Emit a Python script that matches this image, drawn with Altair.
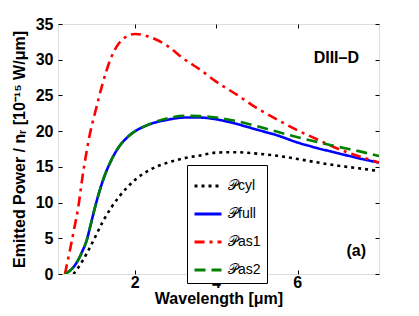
import altair as alt
import pandas as pd

series_names = ["𝒫cyl", "𝒫full", "𝒫as1", "𝒫as2"]
series_colors = ["#000000", "#0000ff", "#ff0000", "#008000"]
series_dash = [[3, 4], [1, 0], [10, 5, 3, 5], [11, 6]]

x_cyl = [0.48, 0.6, 0.8, 1.0, 1.2, 1.4, 1.6, 1.8, 2.0, 2.4, 2.8, 3.2, 3.6, 4.0, 4.5, 5.0, 5.5, 6.0, 6.5, 7.0, 7.5, 8.0]
y_cyl = [0.0, 0.9, 2.8, 5.0, 7.3, 9.2, 10.8, 12.1, 13.2, 14.7, 15.6, 16.2, 16.6, 17.0, 17.05, 16.85, 16.55, 16.1, 15.6, 15.15, 14.8, 14.4]

x_full = [0.27, 0.4, 0.5, 0.6, 0.7, 0.8, 0.9, 1.0, 1.2, 1.4, 1.6, 1.8, 2.0, 2.2, 2.4, 2.8, 3.2, 3.6, 4.0, 4.5, 5.0, 5.5, 6.0, 6.5, 7.0, 7.5, 8.0]
y_full = [0.0, 0.5, 1.1, 2.0, 3.2, 4.6, 6.8, 9.1, 13.0, 15.8, 17.8, 19.1, 20.0, 20.6, 21.05, 21.6, 21.9, 21.9, 21.65, 21.0, 20.2, 19.4, 18.4, 17.6, 16.9, 16.2, 15.6]

x_as1 = [0.27, 0.4, 0.5, 0.6, 0.7, 0.8, 0.9, 1.0, 1.2, 1.4, 1.6, 1.8, 2.0, 2.4, 2.8, 3.2, 3.6, 4.0, 4.5, 5.0, 5.5, 6.0, 6.5, 7.0, 7.5, 8.0]
y_as1 = [0.0, 3.5, 6.4, 9.4, 13.5, 17.0, 20.0, 22.3, 26.7, 30.2, 32.3, 33.3, 33.6, 33.1, 31.9, 30.1, 28.6, 26.9, 25.1, 23.2, 21.6, 20.1, 18.8, 17.5, 16.5, 15.6]

x_as2 = [0.27, 0.4, 0.5, 0.6, 0.7, 0.8, 0.9, 1.0, 1.2, 1.4, 1.6, 1.8, 2.0, 2.2, 2.4, 2.8, 3.2, 3.6, 4.0, 4.5, 5.0, 5.5, 6.0, 6.5, 7.0, 7.5, 8.0]
y_as2 = [0.0, 0.5, 1.1, 2.0, 3.2, 4.6, 6.8, 9.1, 13.0, 15.8, 17.8, 19.1, 20.0, 20.6, 21.1, 21.8, 22.15, 22.1, 21.9, 21.4, 20.7, 19.9, 19.15, 18.45, 17.8, 17.2, 16.5]

x_ticks = [2, 4, 6]
x_tick_labels = ["2", "4", "6"]
y_ticks = [0, 5, 10, 15, 20, 25, 30, 35]

annot_text = ["DIII–D", "(a)"]
annot_x = [6.95, 7.44]
annot_y = [30.3, 3.2]

rows = []
for name, xs, ys in zip(series_names, [x_cyl, x_full, x_as1, x_as2], [y_cyl, y_full, y_as1, y_as2]):
    for i, (a, b) in enumerate(zip(xs, ys)):
        rows.append({"series": name, "x": a, "y": b, "i": i})
df = pd.DataFrame(rows)
ann = pd.DataFrame({"t": annot_text, "x": annot_x, "y": annot_y})
xlab = pd.DataFrame({"v": x_ticks, "lab": x_tick_labels})

W, H = 321, 250
FONT = "Liberation Sans"

xscale = alt.Scale(domain=[0.1, 8], nice=False, zero=False)
yscale = alt.Scale(domain=[0, 35], nice=False)

x_axis = alt.Axis(values=x_ticks, ticks=False, domain=False, grid=True, labels=False,
                  gridColor="black", gridWidth=1, gridOpacity=1,
                  gridDash=[4, H - 8, 4, 2000],
                  titleFontSize=16, titleFontWeight="bold", titleFont=FONT,
                  titleY=29, titleBaseline="alphabetic", titleColor="black")
y_axis = alt.Axis(values=y_ticks, ticks=False, domain=False, grid=True,
                  gridColor="black", gridWidth=1, gridOpacity=1,
                  gridDash=[4, W - 8, 4, 2000], labelPadding=5, labelOverlap=False,
                  labelFlush=False, labelBound=False,
                  labelFontSize=16, labelFontWeight="bold", labelFont=FONT,
                  titleFontSize=16, titleFontWeight="bold", titleFont=FONT,
                  titlePadding=8, labelColor="black", titleColor="black")

XT = "Wavelength [μm]"
YT = "Emitted Power / nᵣ [10⁻¹⁵ W/μm]"

lines = alt.Chart(df).mark_line(strokeWidth=2.6, interpolate="monotone", clip=True).encode(
    x=alt.X("x:Q", scale=xscale, title=XT, axis=x_axis),
    y=alt.Y("y:Q", scale=yscale, title=YT, axis=y_axis),
    color=alt.Color("series:N", scale=alt.Scale(domain=series_names, range=series_colors),
                    legend=alt.Legend(orient="none", legendX=129, legendY=141, title=None,
                                      strokeColor="black", fillColor="white", padding=6,
                                      symbolType="stroke", symbolSize=729, symbolStrokeWidth=3,
                                      labelFontSize=14, labelFont=FONT, labelColor="black",
                                      rowPadding=6, labelOffset=5)),
    strokeDash=alt.StrokeDash("series:N", scale=alt.Scale(domain=series_names, range=series_dash),
                              legend=None),
    order="i:Q",
)

texts = alt.Chart(ann).mark_text(fontSize=16, fontWeight="bold", font=FONT, color="black").encode(
    x=alt.X("x:Q", scale=xscale, axis=x_axis, title=XT),
    y=alt.Y("y:Q", scale=yscale, axis=y_axis, title=YT),
    text="t:N")

xlabels = alt.Chart(xlab).mark_text(fontSize=16, fontWeight="bold", font=FONT, color="black",
                                     baseline="middle", align="center").encode(
    x=alt.X("v:Q", scale=xscale, axis=x_axis, title=XT),
    y=alt.value(H + 9),
    text="lab:N")

chart = alt.layer(lines, texts, xlabels).properties(
    width=W, height=H,
    autosize=alt.AutoSizeParams(type="none"),
    padding={"left": 50, "top": 16, "right": 30, "bottom": 34},
).configure_view(stroke="black", strokeWidth=1.5).configure(background="white")

chart.save("out.html", embed_options={"renderer": "svg", "actions": False})
